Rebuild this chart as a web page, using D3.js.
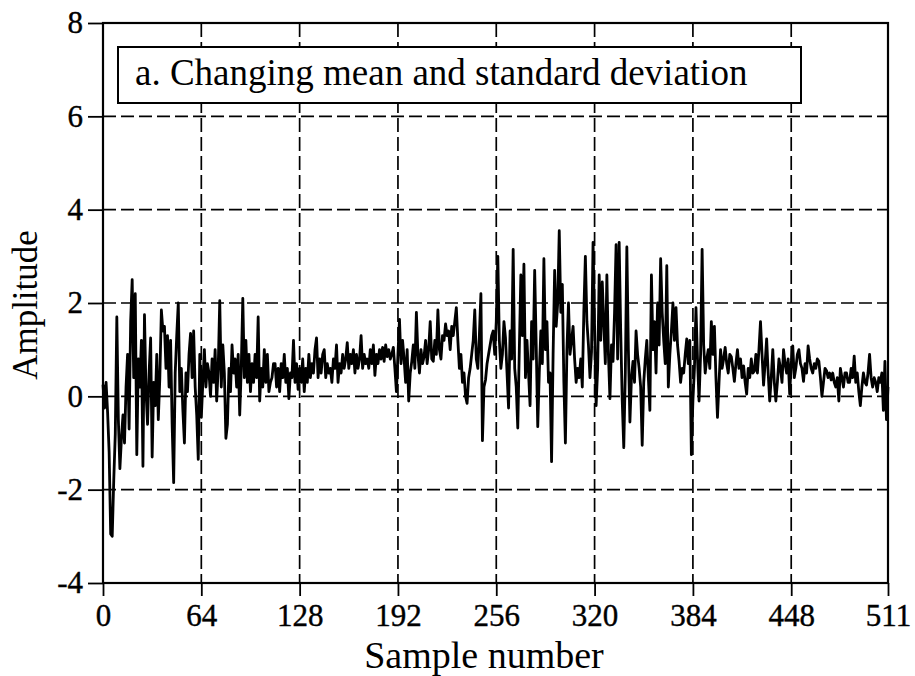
<!DOCTYPE html>
<html><head><meta charset="utf-8">
<script src="https://cdn.jsdelivr.net/npm/d3@7"></script>
<style>body{margin:0;background:#fff} svg{display:block}</style>
</head><body>
<svg id="c" width="915" height="676"></svg>
<script>
const values = [
 0.25,-0.25,0.3,-0.35,-1.2,-2.95,-3.0,-1.8,-0.8,1.7,-0.5,-1.55,-0.9,-0.4,-1.0,0.2,
 0.9,-0.7,1.6,2.5,0.4,2.2,-1.25,0.8,0.2,1.2,-1.5,1.75,0.1,-0.6,0.5,1.25,
 -1.3,0.3,-0.2,0.9,-0.5,0.4,1.85,1.4,1.5,0.6,1.3,0.2,1.2,-0.6,-1.85,0.5,
 1.3,2.0,0.1,0.6,-0.3,-1.0,0.5,0.1,0.9,1.35,0.4,1.4,0.2,-0.4,-1.35,0.9,
 -0.45,0.3,1.0,0.2,0.7,0.5,0.0,0.8,0.3,1.0,-0.1,0.6,2.05,0.2,1.1,0.5,
 -0.9,-0.6,0.6,0.1,1.1,0.5,0.8,0.2,0.9,-0.4,0.6,2.1,0.4,1.2,0.3,0.9,
 0.1,0.7,0.3,0.9,0.4,1.7,-0.1,0.6,0.2,1.0,0.3,0.9,0.1,0.3,0.4,0.7,
 0.7,0.2,0.6,0.1,0.7,0.4,0.9,0.3,0.6,-0.05,0.5,0.4,1.2,0.3,0.7,0.15,
 0.6,0.3,0.8,0.1,0.6,0.3,0.9,0.4,0.7,0.5,1.0,1.25,0.4,0.8,0.5,0.9,
 1.0,0.4,0.7,0.5,0.6,0.3,0.8,0.6,1.1,0.3,0.7,0.5,0.9,0.6,0.8,1.15,
 0.6,0.9,0.7,1.0,0.5,0.9,0.6,0.8,1.3,0.6,0.9,0.7,0.8,0.6,1.0,0.7,
 1.1,0.45,0.9,0.7,1.0,0.8,1.05,0.75,1.1,0.85,1.0,0.8,0.9,1.05,0.6,0.1,
 0.9,1.65,0.7,1.2,0.8,0.3,1.0,-0.1,0.5,0.75,1.1,0.6,1.8,0.9,0.5,1.0,
 0.7,0.85,1.2,0.7,1.0,1.6,0.8,0.75,1.2,0.9,1.85,1.0,0.8,1.3,1.2,1.55,
 1.3,1.4,1.0,1.5,1.3,1.6,1.9,1.2,0.6,0.9,0.3,0.5,0.0,-0.15,0.4,0.6,
 0.9,1.2,1.85,0.8,0.6,1.3,2.2,-0.95,0.2,0.35,0.7,0.9,1.1,1.3,1.4,0.9,
 1.6,3.0,1.2,0.6,0.9,1.6,1.25,0.5,-0.25,1.4,0.8,3.15,0.6,0.2,-0.68,1.0,
 2.6,1.3,2.83,0.4,1.2,0.5,-0.2,1.6,0.8,2.7,1.1,-0.65,0.5,1.4,0.7,2.95,
 1.0,1.6,0.3,0.5,-1.4,0.9,2.7,1.5,2.0,3.55,1.8,2.4,0.3,-1.0,1.0,2.0,
 0.9,1.2,1.5,0.8,0.3,0.6,0.4,0.8,0.2,1.8,3.0,1.6,1.1,0.4,0.95,3.3,
 1.5,-0.2,0.6,2.6,1.2,2.45,1.55,0.7,2.6,0.9,-0.05,1.1,0.75,1.8,3.25,0.8,
 3.3,1.4,-0.1,-1.1,0.5,3.2,1.0,-0.55,0.4,0.75,0.3,1.4,0.9,0.6,0.2,-1.05,
 0.3,0.8,1.2,0.4,-0.3,2.6,1.0,1.6,0.5,2.0,1.1,2.95,1.8,1.2,0.7,2.8,
 0.2,0.9,1.4,2.0,1.2,1.9,1.1,0.75,0.3,0.6,0.5,0.9,1.23,0.7,1.2,-1.25,
 -0.1,0.6,1.9,0.8,-0.1,0.9,3.15,1.1,0.5,0.8,1.0,0.6,1.6,0.9,1.5,0.4,
 -0.45,0.3,1.0,0.6,0.8,1.05,0.7,0.5,0.9,0.85,0.6,0.32,0.7,1.0,0.6,0.8,
 0.4,0.65,0.3,0.05,0.6,0.4,0.8,0.5,0.54,0.9,0.5,1.0,1.6,0.9,0.24,0.7,
 1.23,0.5,-0.1,0.4,1.0,0.3,-0.1,0.3,0.8,0.6,0.3,1.0,0.7,0.5,0.8,0.05,
 0.7,1.08,0.4,0.6,0.9,1.0,0.7,0.6,0.32,0.7,0.5,1.08,0.8,0.6,0.5,0.7,
 0.6,0.8,0.75,0.4,0.0,0.3,0.6,0.55,0.4,0.5,0.35,0.5,0.3,0.2,0.4,-0.1,
 0.6,0.4,0.2,0.5,0.5,0.3,0.3,0.6,0.4,0.86,0.3,0.5,0.1,-0.2,0.2,0.5,
 0.3,0.24,0.5,0.9,0.4,0.2,0.4,0.3,0.1,0.4,0.3,0.5,-0.3,0.75,-0.5,0.2
];
const xTicks = [0,64,128,192,256,320,384,448,511];
const yTicks = [-4,-2,0,2,4,6,8];
const titleText = "a. Changing mean and standard deviation";
const xLabel = "Sample number";
const yLabel = "Amplitude";

const svg = d3.select("#c");
const L = 103, R = 888, T = 23, B = 583;
const x = d3.scaleLinear().domain([0, 511]).range([L, R]);
const y = d3.scaleLinear().domain([-4, 8]).range([B, T]);
const font = "'Liberation Serif','Times New Roman',serif";

// dashed grid
svg.append("g").selectAll("line").data(yTicks.filter(d => d > -4 && d < 8)).join("line")
  .attr("x1", L).attr("x2", R).attr("y1", d => y(d)).attr("y2", d => y(d))
  .attr("stroke", "#000").attr("stroke-width", 1.7).attr("stroke-dasharray", "13,5");
svg.append("g").selectAll("line").data(xTicks.filter(d => d > 0 && d < 511)).join("line")
  .attr("y1", T).attr("y2", B).attr("x1", d => x(d)).attr("x2", d => x(d))
  .attr("stroke", "#000").attr("stroke-width", 1.7).attr("stroke-dasharray", "14,5");

// axes
const gy = svg.append("g").attr("transform", `translate(${L},0)`)
  .call(d3.axisLeft(y).tickValues(yTicks).tickSize(15).tickPadding(5).tickFormat(d => String(d)));
const gx = svg.append("g").attr("transform", `translate(0,${B})`)
  .call(d3.axisBottom(x).tickValues(xTicks).tickSize(13).tickPadding(8).tickFormat(d => String(d)));
[gx, gy].forEach(g => {
  g.select(".domain").remove();
  g.selectAll(".tick line").attr("stroke", "#000").attr("stroke-width", 1.8);
  g.selectAll(".tick text").attr("fill", "#000").attr("stroke", "#000").attr("stroke-width", 0.4)
    .style("font-family", font).style("font-size", "31px");
});

// frame
svg.append("rect").attr("x", L).attr("y", T).attr("width", R - L).attr("height", B - T)
  .attr("fill", "none").attr("stroke", "#000").attr("stroke-width", 2.2);

// data line
svg.append("path").datum(values)
  .attr("fill", "none").attr("stroke", "#000").attr("stroke-width", 2.8)
  .attr("stroke-linejoin", "round")
  .attr("d", d3.line().x((d, i) => x(i)).y(d => y(d)));

// title box
svg.append("rect").attr("x", 118).attr("y", 47).attr("width", 683).attr("height", 56)
  .attr("fill", "#fff").attr("stroke", "#000").attr("stroke-width", 2);
svg.append("text").attr("x", 135).attr("y", 85).text(titleText)
  .style("font-family", font).style("font-size", "37px").attr("fill", "#000");

// axis titles
svg.append("text").attr("x", 484).attr("y", 668).attr("text-anchor", "middle").text(xLabel)
  .style("font-family", font).style("font-size", "38px").attr("fill", "#000");
svg.append("text").attr("transform", "translate(37,305) rotate(-90)").attr("text-anchor", "middle").text(yLabel)
  .style("font-family", font).style("font-size", "35px").attr("fill", "#000");
</script>
</body></html>
